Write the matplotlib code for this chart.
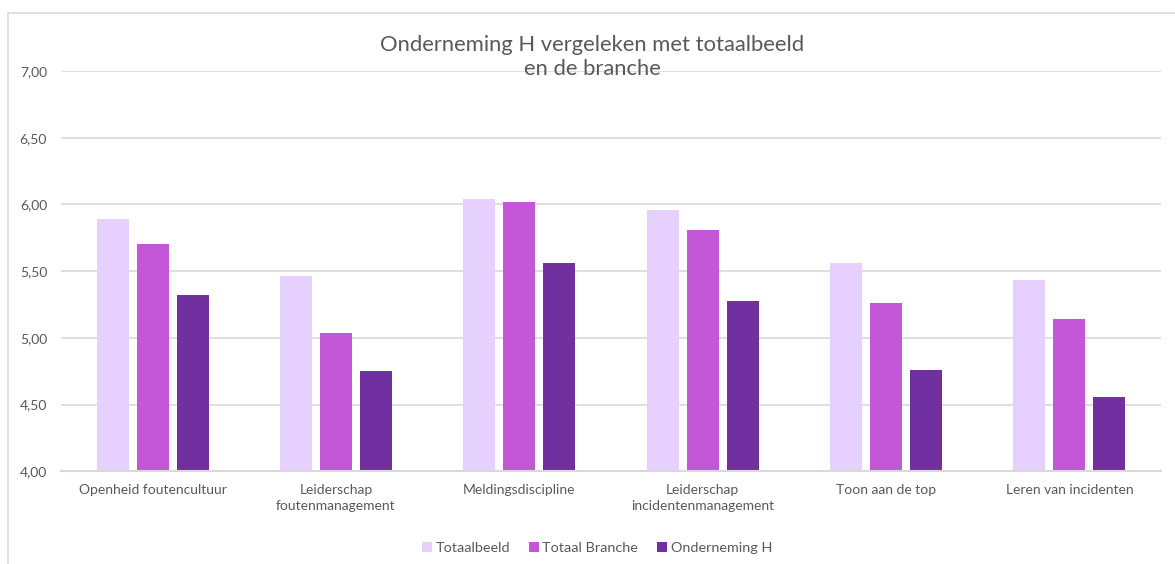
import matplotlib
matplotlib.use("Agg")
import matplotlib.pyplot as plt
from matplotlib.lines import Line2D
from matplotlib.patches import Patch
import numpy as np

categories = ["Openheid foutencultuur", "Leiderschap\nfoutenmanagement", "Meldingsdiscipline",
              "Leiderschap\nincidentenmanagement", "Toon aan de top", "Leren van incidenten"]
series_names = ["Totaalbeeld", "Totaal Branche", "Onderneming H"]
totaalbeeld = [5.89, 5.46, 6.04, 5.96, 5.56, 5.43]
totaal_branche = [5.70, 5.04, 6.02, 5.81, 5.26, 5.14]
onderneming_h = [5.32, 4.75, 5.56, 5.28, 4.76, 4.56]
yticks = [4.0, 4.5, 5.0, 5.5, 6.0, 6.5, 7.0]
ytick_labels = ["4,00", "4,50", "5,00", "5,50", "6,00", "6,50", "7,00"]
title = "Onderneming H vergeleken met totaalbeeld\nen de branche"

colors = ["#E6D1FE", "#C456D8", "#7030A0"]
text_color = "#595959"
grid_color = "#D9D9D9"

plt.rcParams['font.family'] = ['Lato', 'DejaVu Sans']

W, H = 1175, 564
fig = plt.figure(figsize=(W / 100, H / 100), dpi=100)
fig.patch.set_facecolor("white")

left, right, top, bottom = 61, 1161, 71, 471.3
ax = fig.add_axes([left / W, 1 - bottom / H, (right - left) / W, (bottom - top) / H])

x = np.arange(len(categories))
width = 0.175
step = 0.218
all_series = [totaalbeeld, totaal_branche, onderneming_h]
for i, (vals, name, c) in enumerate(zip(all_series, series_names, colors)):
    ax.bar(x + (i - 1) * step, np.array(vals) - 4.0, bottom=4.0, width=width,
           color=c, label=name, zorder=3)

ax.set_xlim(-0.5, len(categories) - 0.5)
ax.set_ylim(4.0, 7.0)
ax.set_yticks(yticks)
ax.set_yticklabels(ytick_labels)
ax.set_xticks(x)
ax.set_xticklabels(categories, linespacing=1.45)
ax.tick_params(axis="both", length=0, colors=text_color, labelsize=10)
ax.tick_params(axis="y", pad=10)
ax.tick_params(axis="x", pad=9)
ax.yaxis.grid(True, color=grid_color, linewidth=1.2, zorder=0)
ax.set_axisbelow(True)
for s in ["top", "right", "left"]:
    ax.spines[s].set_visible(False)
ax.spines["bottom"].set_color(grid_color)
ax.spines["bottom"].set_linewidth(1.5)
ax.spines["bottom"].set_zorder(4)

fig.text(592 / W, 1 - 57 / H, title, ha="center", va="center", fontsize=15.8,
         color=text_color, linespacing=1.2)

handles = [Patch(facecolor=c, edgecolor="none") for c in colors]
leg = fig.legend(handles, series_names, loc="center", bbox_to_anchor=(597 / W, 1 - 548 / H),
                 ncol=3, frameon=False, fontsize=10.4, handlelength=0.7, handleheight=0.7,
                 handletextpad=0.25, columnspacing=1.3)
for t in leg.get_texts():
    t.set_color(text_color)

# chart border (top and left only visible)
fig.add_artist(Line2D([8 / W, 1.0], [1 - 13 / H, 1 - 13 / H], color="#D9D9D9", linewidth=1.2))
fig.add_artist(Line2D([8 / W, 8 / W], [1 - 13 / H, 0.0], color="#D9D9D9", linewidth=1.2))

fig.savefig("out.png", dpi=100, facecolor="white")
